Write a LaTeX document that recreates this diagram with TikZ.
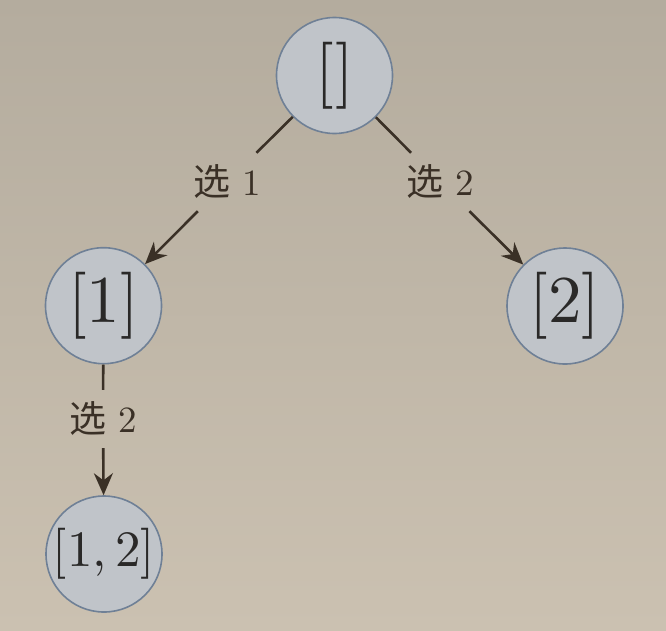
\documentclass[tikz,border=0pt]{standalone}
\usepackage{fontspec}
\setmainfont{lmroman10-regular.otf}
\newfontfamily\cjk{Noto Sans CJK SC}
\usetikzlibrary{arrows.meta}
\definecolor{bgtop}{HTML}{B4AC9E}
\definecolor{bgbot}{HTML}{CBC1B1}
\definecolor{nodefill}{HTML}{C0C4C9}
\definecolor{nodedraw}{HTML}{6F8096}
\definecolor{edgecol}{HTML}{3A3026}
\definecolor{txtcol}{HTML}{2A2928}
\tikzset{
  state/.style={circle, draw=nodedraw, fill=nodefill, line width=1.6pt,
    minimum size=116pt, inner sep=0pt, text=txtcol},
  big/.style={font=\fontsize{67}{67}\selectfont},
  mid/.style={font=\fontsize{51}{51}\selectfont},
  lab/.style={text=edgecol, minimum height=58pt, inner sep=2pt,
    font=\fontsize{37}{37}\selectfont},
  edge/.style={draw=edgecol, line width=2.6pt},
  arr/.style={edge, -{Stealth[length=22pt,width=19pt]}}
}
\begin{document}
\begin{tikzpicture}[x=1pt, y=-1pt]
\fill[top color=bgtop, bottom color=bgbot] (0,0) rectangle (666,630);
\useasboundingbox (0,0) rectangle (666,630);
\node[state, big] (root) at (334.5,75.5) {[\kern0.02em]};
\node[state, big] (n1) at (103.5,305.7) {[1]};
\node[state, big] (n2) at (565,306) {[2]};
\node[state, mid] (n12) at (104,554) {[1,\kern0.17em2]};
\node[lab] (l1) at (227,182) {{\cjk 选} 1};
\node[lab] (l2) at (440,182) {{\cjk 选} 2};
\node[lab] (l3) at (103,419) {{\cjk 选} 2};
\draw[edge] (root) -- (l1);
\draw[arr] (l1) -- (n1);
\draw[edge] (root) -- (l2);
\draw[arr] (l2) -- (n2);
\draw[edge] (n1) -- (l3);
\draw[arr] (l3) -- (n12);
\end{tikzpicture}
\end{document}
